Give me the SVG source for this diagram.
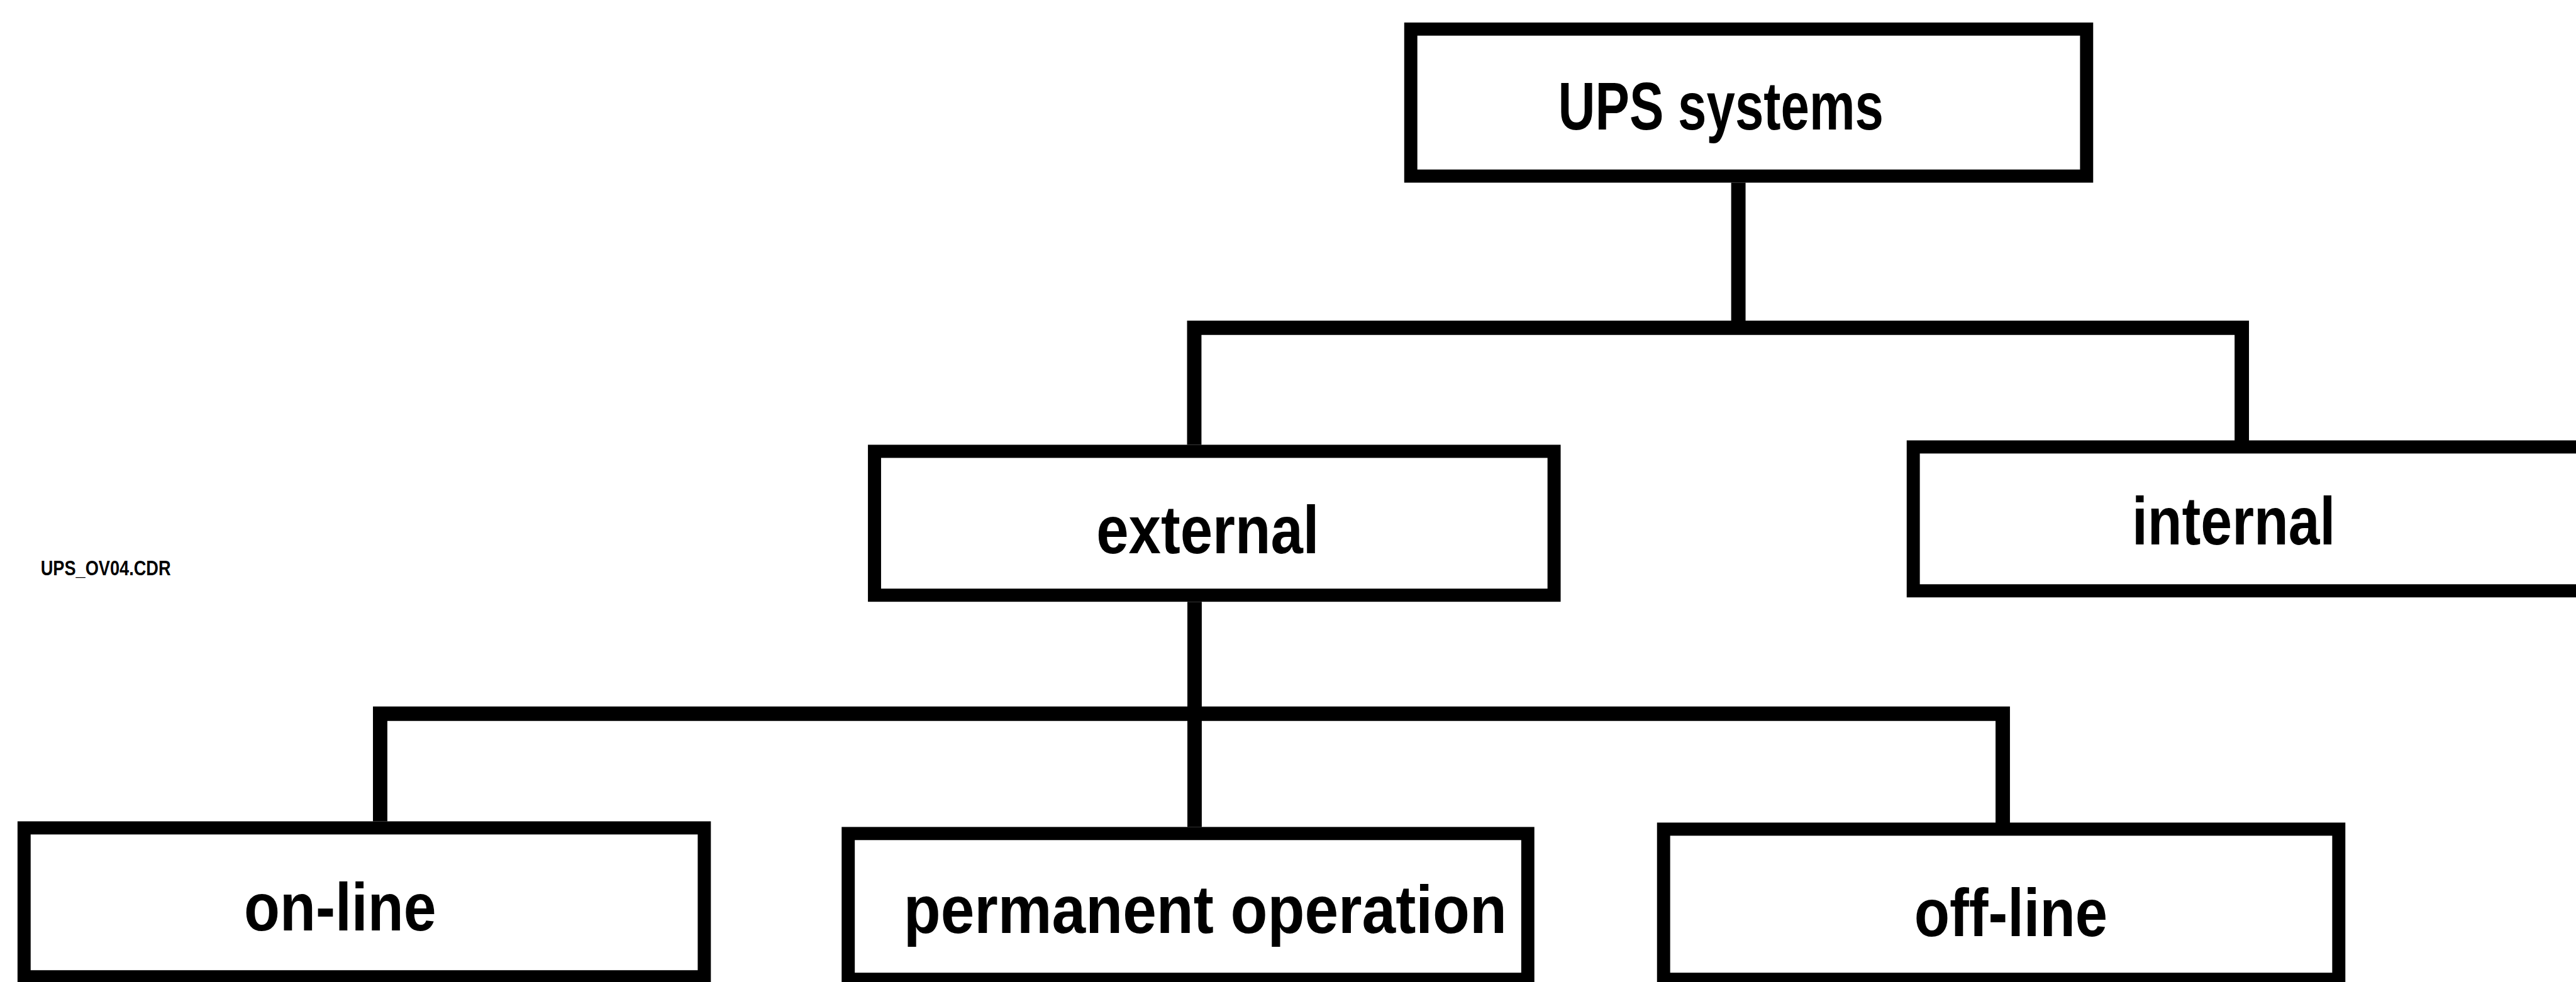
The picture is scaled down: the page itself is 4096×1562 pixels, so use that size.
<svg xmlns="http://www.w3.org/2000/svg" width="4096" height="1562" viewBox="0 0 4096 1562">
  <style>
    .box { fill: #ffffff; stroke: #000000; stroke-width: 21; }
    .wire { fill: none; stroke: #000000; stroke-width: 23; stroke-linecap: butt; stroke-linejoin: miter; }
    .label { font-family: "Liberation Sans", Arial, sans-serif; font-size: 108px; font-weight: bold; fill: #000000; }
    .file { font-family: "Liberation Sans", Arial, sans-serif; font-size: 34px; font-weight: bold; fill: #000000; }
  </style>
  <rect width="4096" height="1562" fill="#ffffff"/>
  <g transform="scale(0.995)">
    <!-- tree connectors -->
    <g id="connectors">
      <path class="wire" d="M2778 292 V524"/>
      <path class="wire" d="M1908.5 711 V524 H3582.5 V705"/>
      <path class="wire" d="M1909 962 V1322"/>
      <path class="wire" d="M607.5 1313 V1141 H3200.5 V1316"/>
    </g>

    <g id="node-ups">
      <rect class="box" x="2254.5" y="46.5" width="1080" height="235"/>
      <text class="label" x="2490" y="207" textLength="520" lengthAdjust="spacingAndGlyphs">UPS systems</text>
    </g>

    <g id="node-external">
      <rect class="box" x="1397.5" y="721.5" width="1086" height="230"/>
      <text class="label" x="1752" y="884" textLength="356" lengthAdjust="spacingAndGlyphs">external</text>
    </g>

    <g id="node-internal">
      <rect class="box" x="3057.5" y="714.5" width="1100" height="230"/>
      <text class="label" x="3407" y="870" textLength="325" lengthAdjust="spacingAndGlyphs">internal</text>
    </g>

    <g id="node-online">
      <rect class="box" x="38.5" y="1323.5" width="1087" height="238"/>
      <text class="label" x="390" y="1487" textLength="307" lengthAdjust="spacingAndGlyphs">on-line</text>
    </g>

    <g id="node-permanent">
      <rect class="box" x="1355.5" y="1332.5" width="1086" height="233"/>
      <text class="label" x="1444" y="1491" textLength="964" lengthAdjust="spacingAndGlyphs">permanent operation</text>
    </g>

    <g id="node-offline">
      <rect class="box" x="2658.5" y="1325.5" width="1079" height="240"/>
      <text class="label" x="3059" y="1496" textLength="309" lengthAdjust="spacingAndGlyphs">off-line</text>
    </g>

    <text class="file" x="65" y="920" textLength="208" lengthAdjust="spacingAndGlyphs">UPS_OV04.CDR</text>
  </g>
</svg>
